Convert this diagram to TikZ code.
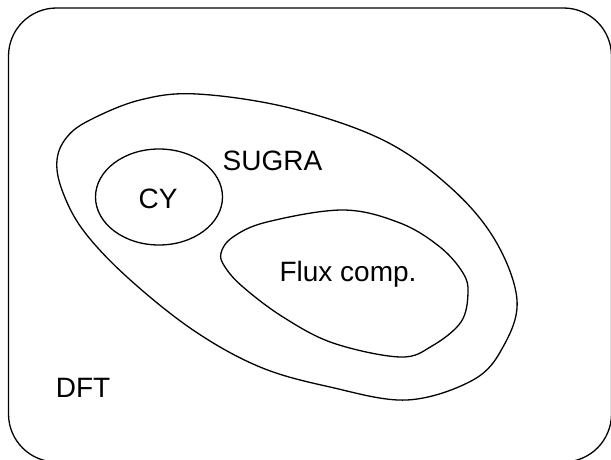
\documentclass[tikz,border=0pt]{standalone}
\usepackage{fontspec}
\setmainfont{Liberation Sans}

\def\dftregion{(8.5,8) rectangle (611.5,462)}
\def\sugraregion{plot[smooth cycle, tension=0.6] coordinates {(197,94) (290,108) (383,140) (450,187) (495,240) (517,300) (503,347) (473,380) (407,400) (330,387) (260,367) (193,330) (127,277) (83,230) (62,190) (57,160) (67,137) (90,120) (140,100)}}
\def\cyregion{(159,197) ellipse [x radius=63.5pt, y radius=48pt]}
\def\fluxregion{plot[smooth cycle, tension=0.6] coordinates {(221,253) (233,237) (267,222) (343,210) (400,223) (440,247) (463,273) (468,293) (461,322) (432,346) (400,357) (333,343) (283,317) (243,287) (225,267)}}
\colorlet{region edge}{black}
\tikzset{
  outline/.style={draw=region edge, line width=1.3pt},
  box/.style={outline, rounded corners=48pt},
  tag/.style={anchor=base, inner sep=0pt, font=\fontsize{28pt}{32pt}\selectfont}
}

\begin{document}
\begin{tikzpicture}[x=1pt, y=-1pt]
  \useasboundingbox (0,0) rectangle (611,460);

  \draw[box] \dftregion;
  \draw[outline] \sugraregion;
  \draw[outline] \cyregion;
  \draw[outline] \fluxregion;

  \node[tag] (sugra) at (272.5,170) {SUGRA};
  \node[tag] (cy) at (158,208.3) {CY};
  \node[tag] (flux) at (348,281) {Flux comp.};
  \node[tag] (dft) at (83,397) {DFT};

\end{tikzpicture}
\end{document}
